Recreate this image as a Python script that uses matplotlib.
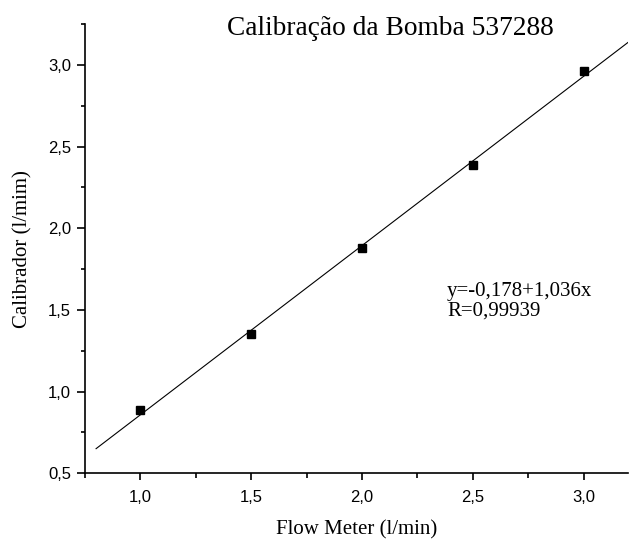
import matplotlib
matplotlib.use("Agg")
import matplotlib.pyplot as plt
import numpy as np
from matplotlib.ticker import MultipleLocator, FuncFormatter

# Data
flow_meter = [1.0, 1.5, 2.0, 2.5, 3.0]
calibrador = [0.89, 1.35, 1.88, 2.39, 2.96]
fit_intercept = -0.178
fit_slope = 1.036
fit_x_range = [0.8, 3.2]
title = "Calibração da Bomba 537288"
xlabel = "Flow Meter (l/min)"
ylabel = "Calibrador (l/mim)"
eq_text = "y=-0,178+1,036x\nR=0,99939"

fig = plt.figure(figsize=(6.3, 5.39), dpi=100)
ax = fig.add_axes([85/630, 1-473.3/539, (628-85)/630, (473.3-24)/539])

fx = np.array(fit_x_range)
ax.plot(fx, fit_intercept + fit_slope*fx, color="black", lw=0.8)
ax.plot(flow_meter, calibrador, ls="none", marker="s", ms=6, color="black")

ax.set_xlim(0.75, 3.2)
ax.set_ylim(0.5, 3.25)
for s in ["top", "right"]:
    ax.spines[s].set_visible(False)
for s in ["left", "bottom"]:
    ax.spines[s].set_linewidth(1.2)

ax.xaxis.set_major_locator(MultipleLocator(0.5))
ax.xaxis.set_minor_locator(MultipleLocator(0.25))
ax.yaxis.set_major_locator(MultipleLocator(0.5))
ax.yaxis.set_minor_locator(MultipleLocator(0.25))
fmt = FuncFormatter(lambda v, p: f"{v:.1f}".replace(".", ","))
ax.xaxis.set_major_formatter(fmt)
ax.yaxis.set_major_formatter(fmt)

ax.tick_params(axis="both", which="both", direction="out", width=1.2,
               labelsize=12)
ax.tick_params(axis="y", which="major", length=6, pad=4)
ax.tick_params(axis="y", which="minor", length=3)
ax.tick_params(axis="x", which="major", length=5, pad=7)
ax.tick_params(axis="x", which="minor", length=3.5)
for lab in ax.get_xticklabels() + ax.get_yticklabels():
    lab.set_family("Liberation Sans")

ax.set_xlabel(xlabel, family="Liberation Serif", fontsize=15, labelpad=11)
ax.set_ylabel(ylabel, family="Liberation Serif", fontsize=15, labelpad=11)

fig.text(390.5/630, 1-35/539, title, family="Liberation Serif", fontsize=19.7,
         ha="center", va="baseline")
fig.text(447/630, 1-316/539, eq_text, family="Liberation Serif", fontsize=15,
         ha="left", va="baseline", linespacing=1.1)

fig.savefig("out.png", dpi=100)
